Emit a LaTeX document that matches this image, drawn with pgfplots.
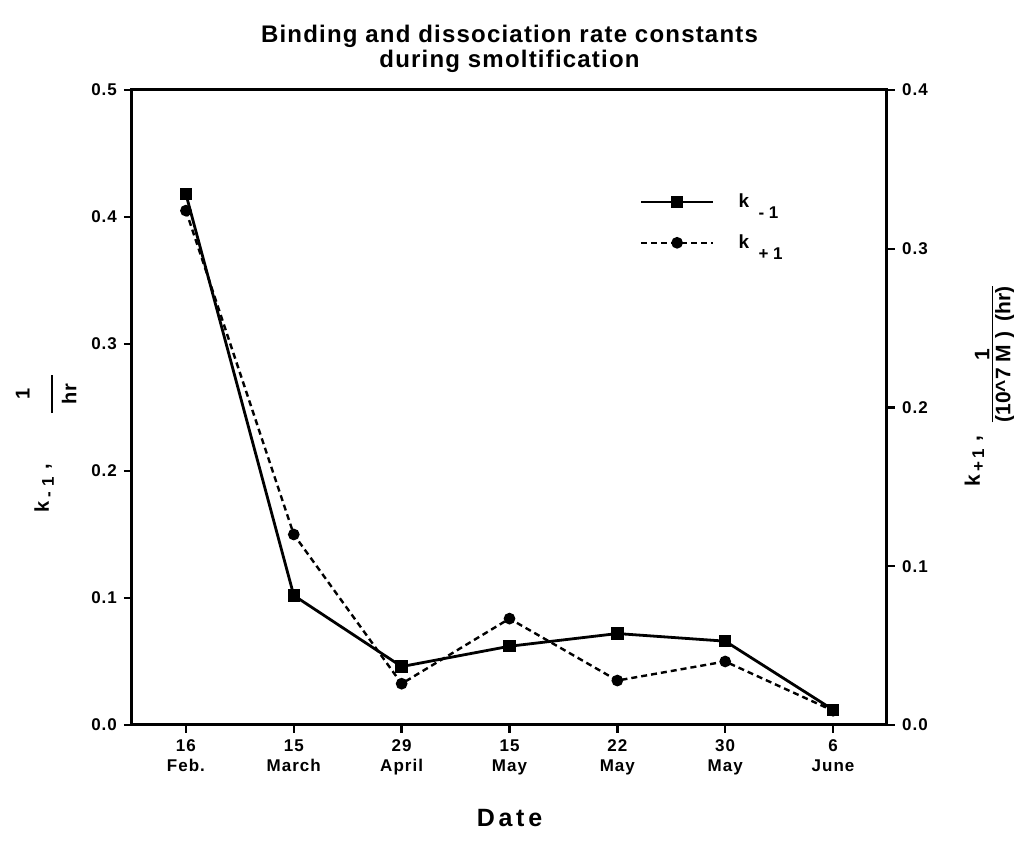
\documentclass[border=0pt]{standalone}
\usepackage{fontspec}
\setmainfont{Liberation Sans}
\usepackage{amsmath}
\usepackage{pgfplots}
\pgfplotsset{compat=1.18}

% dissociation rate constant k_{-1} (1/hr), left axis
\pgfplotstableread{
x y
0 0.418
1 0.102
2 0.046
3 0.062
4 0.072
5 0.066
6 0.012
}\kminus
% binding rate constant k_{+1}, right axis
\pgfplotstableread{
x y
0 0.324
1 0.120
2 0.026
3 0.067
4 0.028
5 0.040
6 0.009
}\kplus

\newcommand{\tickfont}{\bfseries\fontsize{8.5}{10}\selectfont\addfontfeature{LetterSpace=6}}
\pgfplotsset{
  common/.style={
    scale only axis, width=377.5pt, height=317.5pt,
    at={(0,0)}, anchor=south west,
    xmin=-0.5, xmax=6.5,
    tick align=outside, major tick length=4pt,
    every tick/.style={black, line width=1.2pt},
    axis line style={line width=1.5pt},
    tick label style={font=\tickfont},
    /pgf/number format/assume math mode=true,
    /pgf/number format/fixed, /pgf/number format/fixed zerofill,
    /pgf/number format/precision=1,
  },
  ksolid/.style={black, line width=1.4pt, mark=square*, mark size=2.4pt, mark options={solid}},
  kdash/.style={black, line width=1.2pt, dash pattern=on 3pt off 2pt, mark=*, mark size=2.3pt, mark options={solid}},
}
\newcommand{\sub}[1]{$_{\text{\fontsize{8.5}{9}\selectfont#1}}$}

\begin{document}
\begin{tikzpicture}[font=\bfseries]
\useasboundingbox (-66pt,-62.5pt) rectangle (441pt,362.5pt);
\begin{axis}[common,
  ymin=0, ymax=0.5, ytick={0,0.1,...,0.5},
  ytick pos=left, xtick pos=bottom,
  xtick={0,...,6},
  xticklabels={16\\Feb.,15\\March,29\\April,15\\May,22\\May,30\\May,6\\June},
  xticklabel style={align=center, font=\tickfont},
  title={Binding and dissociation rate constants\\during smoltification},
  title style={align=center, at={(rel axis cs:0.5,1)}, anchor=south, yshift=-1pt,
    font=\bfseries\fontsize{12}{12.5}\selectfont\addfontfeature{LetterSpace=5}},
  xlabel={Date},
  every axis x label/.style={at={(rel axis cs:0.5,0)}, anchor=center, yshift=-46.5pt,
    font=\bfseries\fontsize{12.5}{14}\selectfont\addfontfeature{LetterSpace=15}},
  ylabel={k\,\sub{-\,\,1}\,\,,\hspace{24pt}\raisebox{-4pt}{$\genfrac{}{}{0.9pt}{0}{\text{\makebox[19pt]{1}}\rule[-8pt]{0pt}{0pt}}{\rule{0pt}{9pt}\text{hr}}$}},
  every axis y label/.style={at={([xshift=-41.5pt]rel axis cs:0,0.445)}, anchor=base, rotate=90,
    font=\bfseries\fontsize{10}{12}\selectfont},
  legend style={draw=none, fill=none, at={(rel axis cs:0.664,0.85)}, anchor=north west,
    font=\bfseries\fontsize{9.5}{11}\selectfont, row sep=8pt},
  legend cell align=left,
  legend image code/.code={\draw[mark repeat=2, mark phase=2, #1]
    plot coordinates {(0pt,0pt) (18pt,0pt) (36pt,0pt)};},
]
\addplot[ksolid] table[x=x, y=y] {\kminus};
\addlegendentry{\hspace{10pt}k\enspace\raisebox{-3pt}{\sub{- 1}}}
\addlegendimage{kdash}
\addlegendentry{\hspace{10pt}k\enspace\raisebox{-3pt}{\sub{+ 1}}}
\end{axis}
\begin{axis}[common,
  ymin=0, ymax=0.4, ytick={0,0.1,...,0.4},
  axis y line*=right, axis x line=none,
  ylabel={k\,\sub{+\,1}\,\,,\enspace\raisebox{-9pt}{$\genfrac{}{}{0.9pt}{1}{\mbox{1}}{\mbox{(10\^{}7 M )\enspace(hr)}}$}},
  every axis y label/.style={at={([xshift=46.5pt]rel axis cs:1,0.535)}, anchor=base, rotate=90,
    font=\bfseries\fontsize{10.5}{12}\selectfont},
]
\addplot[kdash] table[x=x, y=y] {\kplus};
\end{axis}
\end{tikzpicture}
\end{document}
